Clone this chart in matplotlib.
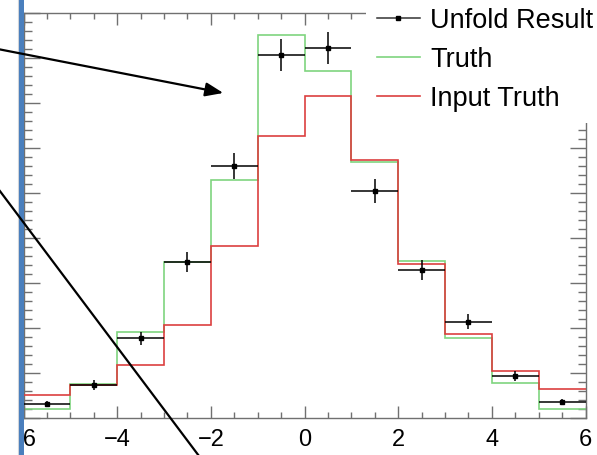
import matplotlib
matplotlib.use("Agg")
import matplotlib.pyplot as plt
from matplotlib.ticker import MultipleLocator
from matplotlib.patches import Rectangle, FancyArrowPatch
from matplotlib.lines import Line2D

# Binning: 12 unit-width bins on [-6, 6]
bin_edges = [-6, -5, -4, -3, -2, -1, 0, 1, 2, 3, 4, 5, 6]
bin_centers = [-5.5, -4.5, -3.5, -2.5, -1.5, -0.5, 0.5, 1.5, 2.5, 3.5, 4.5, 5.5]

truth = [20, 76, 191, 347, 529, 851, 772, 569, 350, 178, 78, 20]
input_truth = [51, 74, 118, 207, 382, 627, 716, 573, 343, 187, 105, 64]
unfold = [31, 73, 177, 347, 560, 807, 822, 504, 329, 214, 93, 36]
unfold_err = [7, 11, 15, 22, 29, 36, 36, 27, 22, 17, 11, 7]

x_ticks = [-6, -4, -2, 0, 2, 4, 6]
legend_labels = ["Unfold Result", "Truth", "Input Truth"]

W, H = 597, 455
fig = plt.figure(figsize=(W / 100, H / 100), dpi=100)
plt.rcParams["font.family"] = ["Liberation Sans", "DejaVu Sans"]

ax = fig.add_axes([23.5 / W, (H - 418) / H, 562 / W, 405 / H])
ax.set_xlim(-6, 6)
ax.set_ylim(0, 900)

green = "#7fd47f"
red = "#dc3f3f"

ax.stairs(input_truth, bin_edges, baseline=None, color=red, lw=1.2, zorder=3)
ax.stairs(truth, bin_edges, baseline=None, color=green, lw=1.2, zorder=2)
xerr = [0.5] * len(bin_centers)
ax.errorbar(bin_centers, unfold, yerr=unfold_err, xerr=xerr, fmt="s",
            color="black", ms=2.5, lw=1.1, capsize=0, zorder=4)

# axis styling
for s in ax.spines.values():
    s.set_color("#707070")
    s.set_linewidth(1.0)
ax.xaxis.set_major_locator(MultipleLocator(2))
ax.xaxis.set_minor_locator(MultipleLocator(0.5))
ax.yaxis.set_major_locator(MultipleLocator(100))
ax.yaxis.set_minor_locator(MultipleLocator(20))
ax.set_xticks(x_ticks)
ax.tick_params(which="both", direction="in", top=True, right=True,
               color="#707070", width=1.0)
ax.tick_params(axis="x", which="major", length=8.6, labelsize=17, pad=8)
ax.tick_params(axis="x", which="minor", length=4.3)
ax.tick_params(axis="y", which="major", length=11.5, labelleft=False)
ax.tick_params(axis="y", which="minor", length=5.8)

handles = [
    Line2D([], [], color="#333333", lw=1.1, marker="s", ms=2.5,
           markerfacecolor="black", markeredgecolor="black"),
    Line2D([], [], color=green, lw=1.2),
    Line2D([], [], color=red, lw=1.2),
]
leg = ax.legend(handles, legend_labels, loc="upper left",
                bbox_to_anchor=(366 / W, 1 + 3 / H),
                bbox_transform=fig.transFigure, fontsize=19.5,
                frameon=True, fancybox=False, borderpad=0.4,
                borderaxespad=0, handlelength=1.59, handletextpad=0.37,
                labelspacing=0.48)
leg.get_frame().set_facecolor("white")
leg.get_frame().set_edgecolor("none")
leg.get_frame().set_alpha(1)
leg.set_zorder(10)

# side panel: white margin and blue bar at the left edge
fig.add_artist(Rectangle((0, 0), 18.5 / W, 1, transform=fig.transFigure,
                         facecolor="white", edgecolor="none", zorder=19))
fig.add_artist(Line2D([18 / W, 18 / W], [0, 1], transform=fig.transFigure,
                      color="#d0d4da", lw=0.8, zorder=19))
fig.add_artist(Rectangle((18.5 / W, 0), 5.5 / W, 1, transform=fig.transFigure,
                         facecolor="#4a7fbd", edgecolor="none", zorder=20))

# pointer lines
def fp(x, y):
    return (x, H - y)

arrow = FancyArrowPatch(fp(-10, 47.5), fp(226, 93.5), transform=None,
                        arrowstyle="-|>,head_length=0.9,head_width=0.35",
                        mutation_scale=12, color="black", lw=1.6, zorder=30)
fig.add_artist(arrow)
fig.add_artist(Line2D([-2, 202], [H - 188.5, H - 460], transform=None,
                      color="black", lw=1.6, zorder=30))

fig.savefig("out.png", dpi=100)
